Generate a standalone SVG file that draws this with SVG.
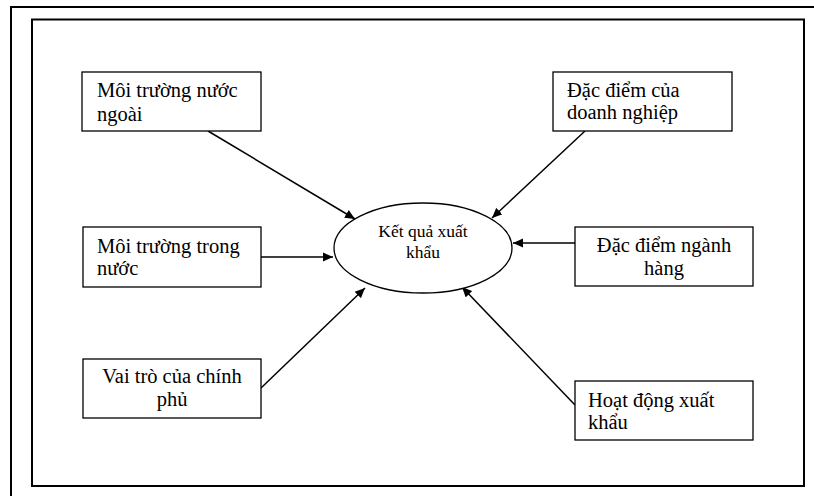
<svg xmlns="http://www.w3.org/2000/svg" width="814" height="496" viewBox="0 0 814 496">
<style>
.frame{fill:none;stroke:#000;stroke-width:2}
.box{fill:#fff;stroke:#000;stroke-width:1.3}
.t{font-family:"Liberation Serif","Times New Roman",serif;font-size:20.5px;fill:#000}
.tc{font-family:"Liberation Serif","Times New Roman",serif;font-size:17.5px;fill:#000;text-anchor:middle}
.mid{text-anchor:middle}
.c{stroke:#000;stroke-width:1.5;fill:none;marker-end:url(#ah)}
</style>
<defs>
<marker id="ah" viewBox="0 0 10 10" refX="10" refY="5" markerWidth="10" markerHeight="10" markerUnits="userSpaceOnUse" orient="auto">
<path d="M0,0.5 L10,5 L0,9.5 z" fill="#000"/>
</marker>
</defs>
<rect width="814" height="496" fill="#fff"/>
<path class="frame" d="M11,496 V7 H814"/>
<rect class="frame" x="32" y="19.5" width="772" height="466.5"/>
<g id="connectors">
<line class="c" x1="208" y1="131" x2="355" y2="219"/>
<line class="c" x1="261" y1="257" x2="333" y2="257"/>
<line class="c" x1="261" y1="388" x2="365" y2="288"/>
<line class="c" x1="585" y1="131" x2="492" y2="218"/>
<line class="c" x1="575" y1="243" x2="513" y2="243"/>
<line class="c" x1="575" y1="405" x2="462" y2="287"/>
</g>
<g id="center">
<ellipse cx="423" cy="248" rx="89" ry="45" fill="#fff" stroke="#000" stroke-width="1.3"/>
<text class="tc" x="423" y="237">Kết quả xuất</text>
<text class="tc" x="423" y="258">khẩu</text>
</g>
<g id="n1">
<rect class="box" x="82" y="72" width="179" height="59"/>
<text class="t" x="97" y="97">Môi trường nước</text>
<text class="t" x="97" y="121">ngoài</text>
</g>
<g id="n2">
<rect class="box" x="83" y="227" width="178" height="60"/>
<text class="t" x="97" y="253">Môi trường trong</text>
<text class="t" x="97" y="275">nước</text>
</g>
<g id="n3">
<rect class="box" x="83" y="359" width="178" height="59"/>
<text class="t mid" x="172" y="383">Vai trò của chính</text>
<text class="t mid" x="172" y="406">phủ</text>
</g>
<g id="n4">
<rect class="box" x="553" y="72" width="179" height="59"/>
<text class="t" x="567" y="97">Đặc điểm của</text>
<text class="t" x="567" y="119">doanh nghiệp</text>
</g>
<g id="n5">
<rect class="box" x="575" y="227" width="178" height="59"/>
<text class="t mid" x="664" y="252">Đặc điểm ngành</text>
<text class="t mid" x="664" y="275">hàng</text>
</g>
<g id="n6">
<rect class="box" x="575" y="381" width="178" height="59"/>
<text class="t" x="588" y="407">Hoạt động xuất</text>
<text class="t" x="588" y="429">khẩu</text>
</g>
</svg>
